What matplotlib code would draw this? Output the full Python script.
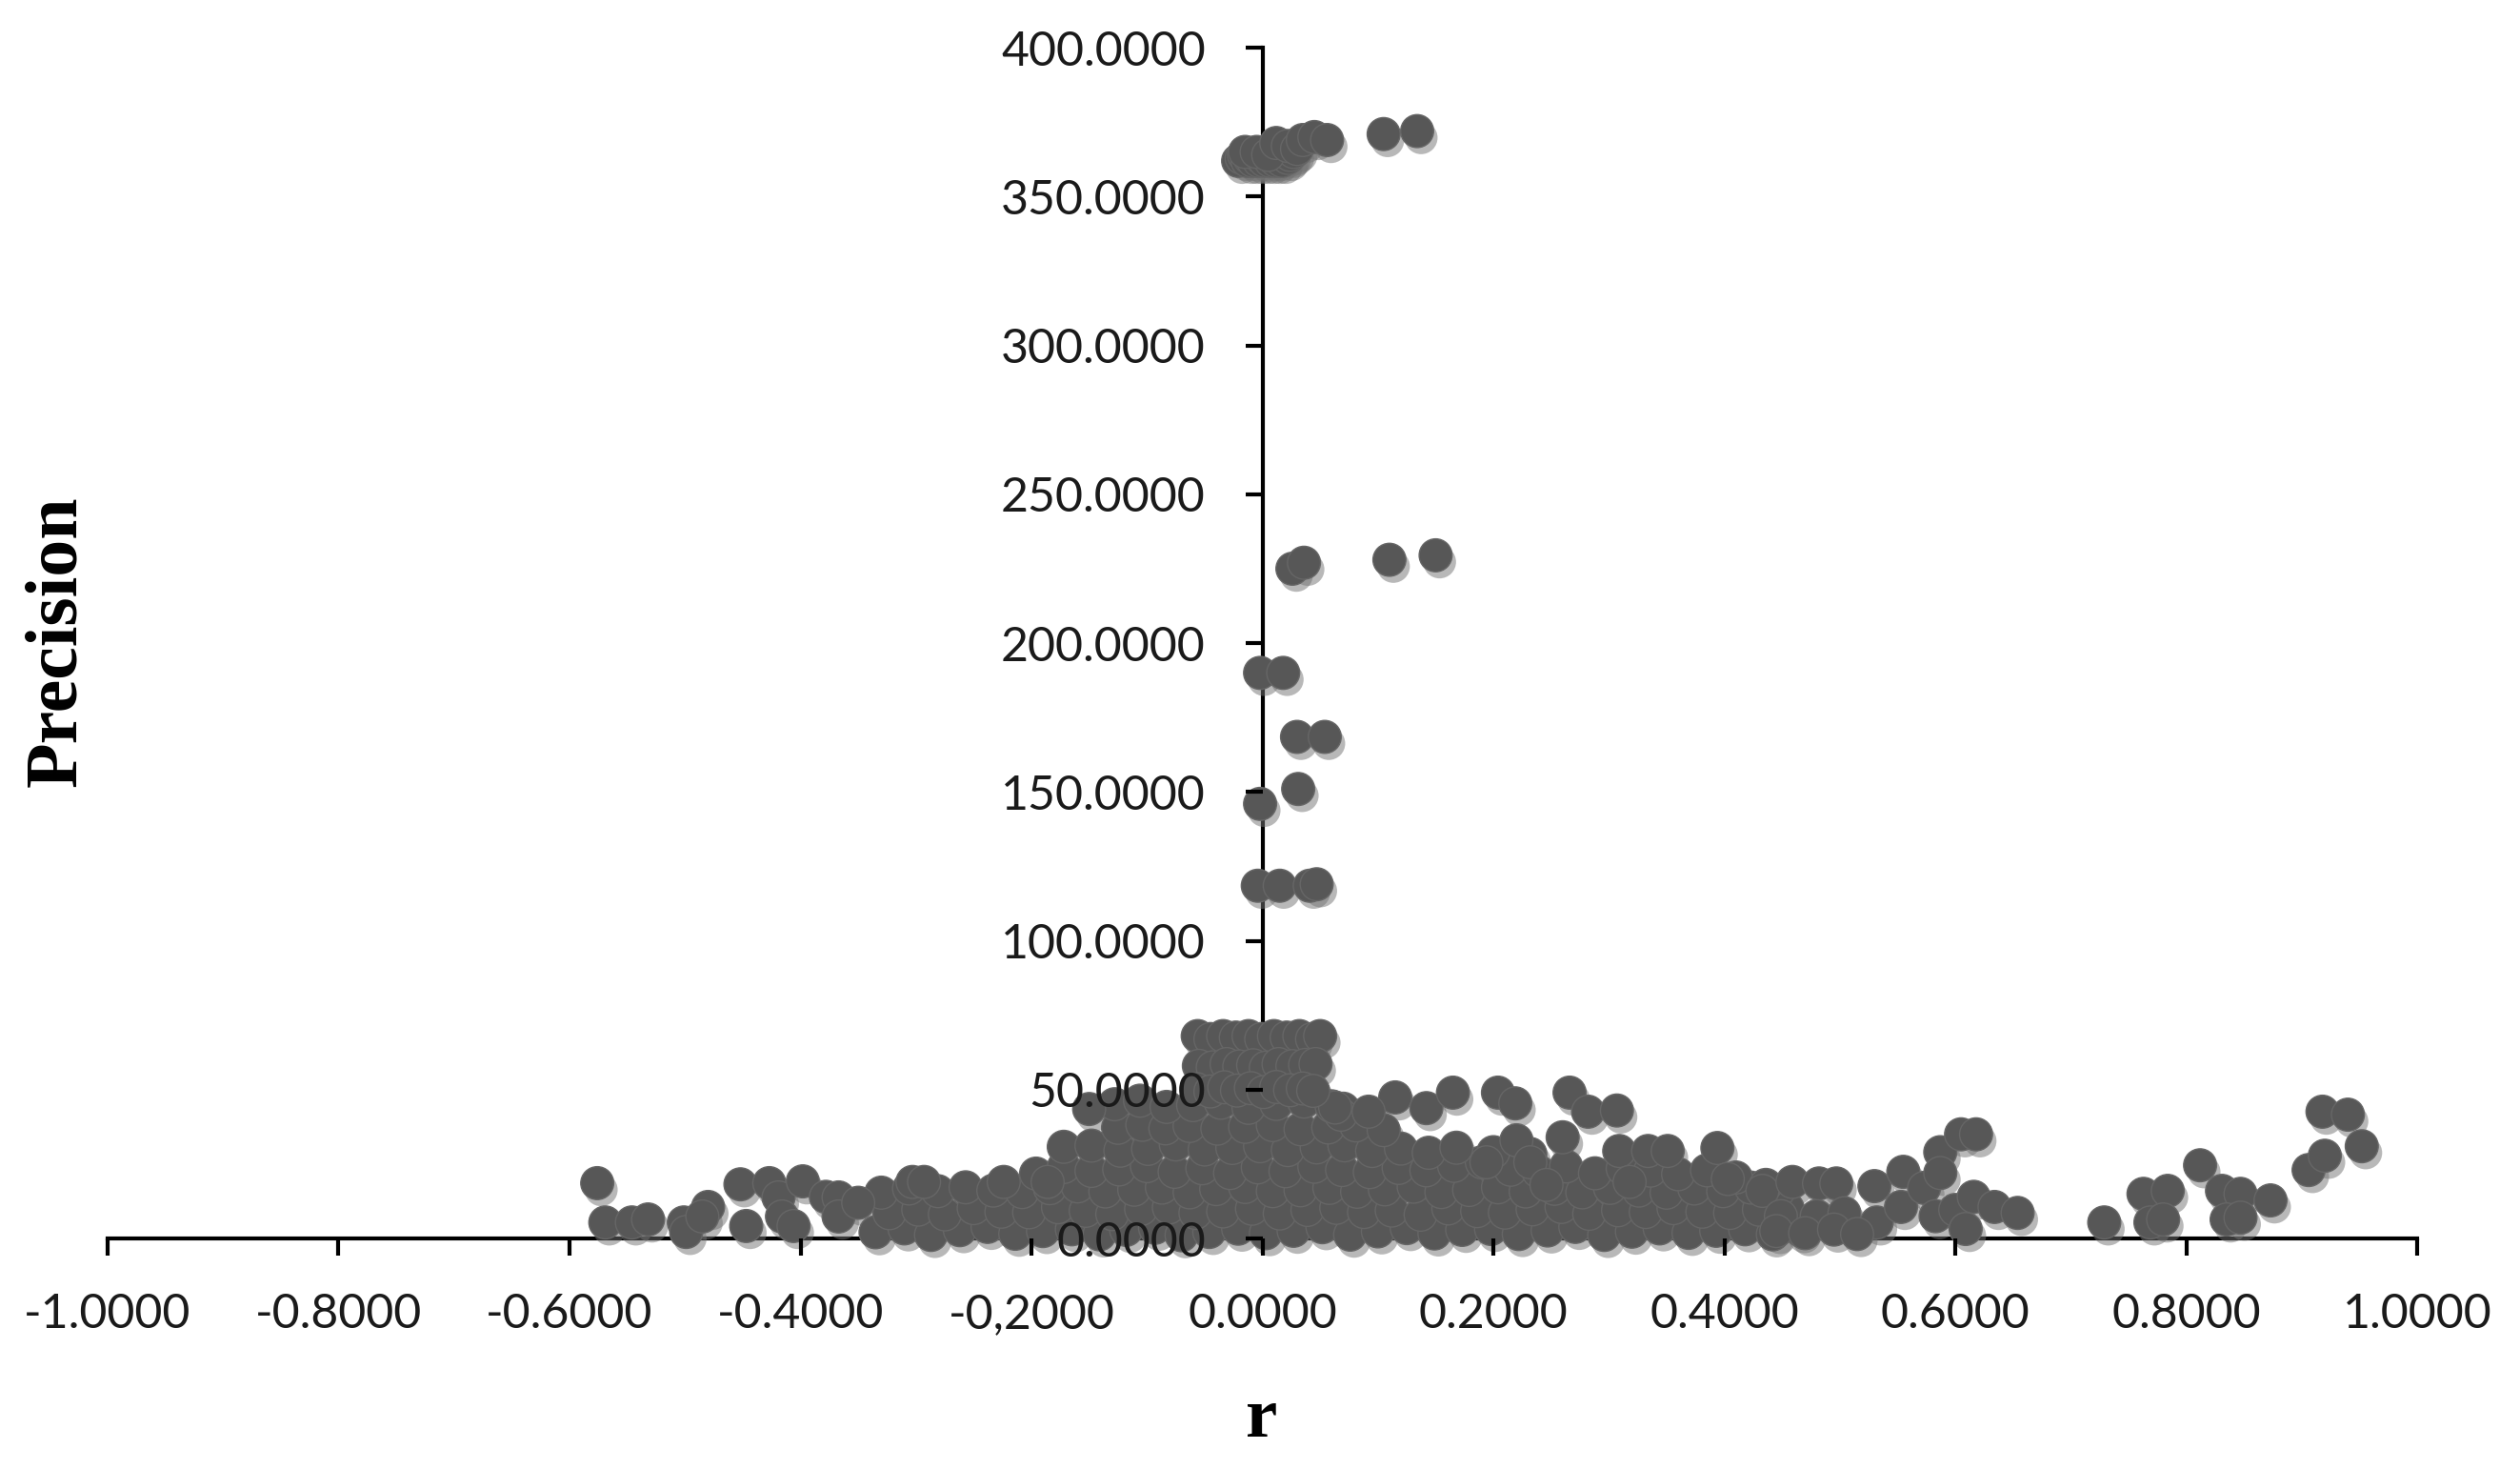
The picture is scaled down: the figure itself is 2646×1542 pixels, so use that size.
import matplotlib.pyplot as plt
import matplotlib.patheffects as pe
import numpy as np

# top cluster (precision ~ 365)
r_top = [-0.021, -0.018, -0.016, -0.013, -0.011, -0.008, -0.006, -0.003, -0.001, 0.002,
         0.004, 0.007, 0.009, 0.012, 0.014, 0.017, 0.019, 0.022, 0.024, 0.027,
         -0.015, -0.005, 0.005, 0.012, 0.022, 0.030, 0.035, 0.045, 0.056, 0.105, 0.134]
p_top = [362, 363, 364, 362, 363, 362, 364, 362, 363, 362,
         364, 362, 363, 362, 363, 362, 364, 363, 364, 365,
         365, 365, 364, 368, 367, 366, 369, 370, 369, 371, 372]

# isolated middle groups (118 - 229)
r_mid = [0.026, 0.036, 0.110, 0.150, -0.002, 0.018, 0.030, 0.054, 0.031, -0.002,
         -0.004, 0.015, 0.041, 0.047]
p_mid = [225, 227, 228, 229.5, 190, 190, 168.5, 168.5, 151, 146,
         118.5, 118.5, 118.5, 119]

# block around r = 0 (precision 45 - 68)
r_block = [-0.056, -0.045, -0.034, -0.023, -0.012, -0.001, 0.010, 0.021, 0.032, 0.043, 0.050,
           -0.055, -0.043, -0.031, -0.020, -0.008, 0.003, 0.014, 0.026, 0.037, 0.046,
           -0.057, -0.045, -0.033, -0.022, -0.010, 0.001, 0.012, 0.024, 0.035, 0.044]
p_block = [68, 67, 68, 67.5, 68, 67, 68, 67.5, 68, 67, 68,
           58, 57.5, 58.6, 57.8, 58.2, 57.4, 58.6, 57.9, 58.3, 58.6,
           50.2, 49.4, 50.8, 49.7, 50.5, 49.2, 50.9, 49.8, 50.4, 49.6]

# left sparse tail
r_left = [-0.576, -0.569, -0.546, -0.532, -0.501, -0.499, -0.480, -0.485, -0.452, -0.447,
          -0.427, -0.419, -0.416, -0.406, -0.398, -0.378, -0.367, -0.367, -0.350, -0.303,
          -0.293, -0.224, -0.186, -0.150]
p_left = [18.6, 5.4, 5.4, 6.4, 5.4, 2.2, 10.6, 7.4, 18.2, 4.2,
          18.6, 13.8, 7.4, 4.2, 19.2, 14.0, 13.8, 7.4, 12.0, 19.0,
          19.0, 19.0, 19.0, 43.5]

# dense cloud, rough bands of precision
r_band1 = [-0.335, -0.310, -0.287, -0.262, -0.238, -0.214, -0.190, -0.165, -0.141, -0.118,
           -0.093, -0.070, -0.046, -0.021, 0.003, 0.027, 0.052, 0.076, 0.100, 0.125,
           0.149, 0.173, 0.198, 0.222, 0.247, 0.271, 0.296, 0.320, 0.344, 0.369,
           0.393, 0.418, 0.442, 0.466]
p_band1 = [2.1, 3.4, 1.2, 2.8, 3.9, 1.6, 2.5, 3.1, 1.4, 2.9,
           3.6, 1.1, 2.2, 3.3, 1.8, 2.6, 3.8, 1.3, 2.4, 3.5,
           1.7, 2.9, 3.2, 1.5, 2.7, 3.9, 1.2, 2.3, 3.4, 1.9,
           2.6, 3.1, 1.4, 2.8]

r_band2 = [-0.323, -0.298, -0.275, -0.250, -0.226, -0.202, -0.177, -0.153, -0.130, -0.105,
           -0.081, -0.058, -0.034, -0.009, 0.015, 0.039, 0.064, 0.088, 0.112, 0.137,
           0.161, 0.186, 0.210, 0.234, 0.259, 0.283, 0.308, 0.332, 0.356, 0.381,
           0.405, 0.430, 0.455]
p_band2 = [8.5, 9.7, 8.1, 10.2, 9.0, 8.8, 10.5, 9.3, 8.2, 9.9,
           10.4, 8.6, 9.1, 10.0, 8.4, 9.6, 10.3, 8.9, 9.4, 8.0,
           10.1, 9.2, 8.7, 9.8, 10.6, 8.3, 9.5, 8.9, 10.2, 9.0,
           8.6, 9.7, 10.0]

r_band3 = [-0.330, -0.306, -0.281, -0.257, -0.233, -0.208, -0.184, -0.160, -0.136, -0.111,
           -0.087, -0.063, -0.040, -0.015, 0.009, 0.033, 0.058, 0.082, 0.106, 0.131,
           0.155, 0.179, 0.204, 0.228, 0.253, 0.277, 0.301, 0.326, 0.350, 0.374,
           0.399, 0.423, 0.447]
p_band3 = [15.4, 16.8, 15.9, 17.2, 16.1, 15.6, 16.9, 17.5, 15.8, 16.4,
           17.1, 15.5, 16.6, 17.3, 15.9, 16.2, 17.0, 15.7, 16.5, 17.4,
           15.6, 16.3, 17.2, 15.8, 16.7, 15.5, 17.0, 16.1, 15.4, 16.8,
           15.9, 17.1, 16.0]

r_band4 = [-0.196, -0.172, -0.148, -0.124, -0.100, -0.076, -0.052, -0.028, -0.004, 0.020,
           0.045, 0.069, 0.093, 0.118, 0.142, 0.166, 0.190, 0.215, 0.239, 0.263,
           0.288, 0.312, 0.336, 0.360, 0.385, 0.410, 0.436]
p_band4 = [21.8, 24.0, 22.7, 23.2, 24.3, 22.4, 23.6, 22.0, 23.9, 22.6,
           24.1, 23.0, 22.3, 23.7, 22.9, 24.4, 25.6, 23.1, 22.5, 24.2,
           21.9, 23.5, 22.8, 21.6, 22.9, 20.5, 18.0]

r_band5 = [-0.172, -0.148, -0.123, -0.099, -0.075, -0.050, -0.026, -0.002, 0.022, 0.047,
           0.071, 0.095, 0.120, 0.144, 0.168, 0.200, 0.232]
p_band5 = [30.8, 31.2, 29.5, 30.1, 31.6, 29.9, 30.4, 31.0, 29.7, 30.6,
           31.3, 29.4, 30.2, 28.8, 30.5, 29.0, 28.4]

r_band6 = [-0.125, -0.104, -0.084, -0.063, -0.039, -0.015, 0.009, 0.033, 0.057, 0.081, 0.105]
p_band6 = [37.2, 38.2, 37.0, 37.8, 36.9, 37.5, 38.1, 36.7, 37.3, 38.0, 36.4]

r_band7 = [-0.128, -0.106, -0.083, -0.060, -0.036, -0.012, 0.012, 0.036, 0.060, 0.070]
p_band7 = [45.1, 46.3, 44.2, 44.8, 45.6, 43.9, 45.2, 46.0, 44.4, 43.6]

# upper edge of the right part of the cloud
r_edge = [0.115, 0.142, 0.165, 0.204, 0.219, 0.266, 0.282, 0.307, 0.260, 0.220,
          0.194, 0.232, 0.309, 0.334, 0.351, 0.394, 0.068, 0.246, 0.318, 0.403,
          0.063, 0.092]
p_edge = [47.4, 43.8, 49.0, 49.0, 45.4, 49.0, 42.6, 43.0, 34.0, 33.0,
          25.6, 25.6, 29.4, 29.4, 29.4, 30.4, 41.6, 18.0, 19.0, 20.0,
          44.0, 42.6]

# right tail
r_right = [0.433, 0.459, 0.482, 0.497, 0.449, 0.480, 0.504, 0.530, 0.532, 0.555,
           0.553, 0.573, 0.587, 0.587, 0.583, 0.605, 0.618, 0.600, 0.616, 0.609,
           0.634, 0.654, 0.729, 0.763, 0.784, 0.769, 0.780, 0.812, 0.831, 0.847,
           0.835, 0.847, 0.873, 0.906, 0.920, 0.918, 0.940, 0.952, 0.445, 0.470,
           0.495, 0.515]
p_right = [16.0, 19.0, 18.5, 18.5, 7.5, 7.5, 8.5, 17.6, 5.4, 22.4,
           10.6, 17.0, 29.0, 22.0, 7.5, 35.0, 35.0, 9.6, 14.0, 3.2,
           10.6, 8.6, 5.4, 15.0, 16.0, 5.4, 6.4, 24.6, 16.0, 15.0,
           6.4, 7.0, 12.8, 23.0, 27.8, 42.6, 41.6, 31.0, 2.5, 1.8,
           3.0, 1.5]

x_ticks = [-1.0, -0.8, -0.6, -0.4, -0.2, 0.0, 0.2, 0.4, 0.6, 0.8, 1.0]
x_labels = ['-1.0000', '-0.8000', '-0.6000', '-0.4000', '-0,2000', '0.0000',
            '0.2000', '0.4000', '0.6000', '0.8000', '1.0000']
y_ticks = [0, 50, 100, 150, 200, 250, 300, 350, 400]
y_labels = ['0.0000', '50.0000', '100.0000', '150.0000', '200.0000', '250.0000',
            '300.0000', '350.0000', '400.0000']

r = np.concatenate([r_band1, r_band2, r_band3, r_band4, r_band5, r_band6, r_band7,
                    r_left, r_edge, r_right, r_block, r_mid, r_top])
p = np.concatenate([p_band1, p_band2, p_band3, p_band4, p_band5, p_band6, p_band7,
                    p_left, p_edge, p_right, p_block, p_mid, p_top])

fig = plt.figure(figsize=(26.46, 15.42), dpi=100)
ax = fig.add_axes([0.0427, 0.1569, 0.9165, 0.8106])

pts = ax.scatter(r, p, s=620, c='#575757', edgecolors='#666666', linewidths=1.0,
                 zorder=3, clip_on=False)
pts.set_path_effects([pe.SimplePatchShadow(offset=(3, -5), shadow_rgbFace='0.45', alpha=0.5),
                      pe.Normal()])

ax.set_xlim(-1, 1)
ax.set_ylim(0, 400)

# axes cross at the origin, Excel style
ax.spines['left'].set_position(('data', 0))
ax.spines['bottom'].set_position(('data', 0))
ax.spines['top'].set_visible(False)
ax.spines['right'].set_visible(False)
for s in ['left', 'bottom']:
    ax.spines[s].set_linewidth(3)
    ax.spines[s].set_color('black')
    ax.spines[s].set_zorder(2)
ax.xaxis.set_zorder(4)
ax.yaxis.set_zorder(4)

ax.set_xticks(x_ticks)
ax.set_xticklabels(x_labels)
ax.set_yticks(y_ticks)
ax.set_yticklabels(y_labels)
ax.tick_params(axis='both', direction='out', length=13, width=3, color='black',
               labelsize=36, labelcolor='#1a1a1a')
ax.tick_params(axis='x', pad=28)
ax.tick_params(axis='y', pad=30)
for lab in ax.get_xticklabels() + ax.get_yticklabels():
    lab.set_family('Lato')

fig.text(0.023, 0.5636, 'Precision', rotation=90, ha='center', va='center',
         fontsize=56, fontweight='bold', family='Liberation Serif')
fig.text(0.5008, 0.0337, 'r', ha='center', va='center',
         fontsize=54, fontweight='bold', family='Liberation Serif')

fig.savefig('out.png', dpi=100)
